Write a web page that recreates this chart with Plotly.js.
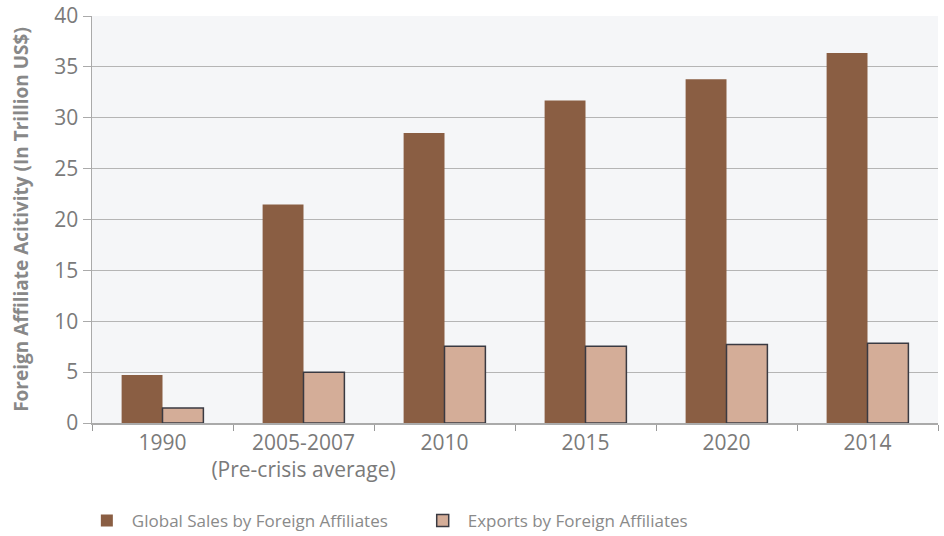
<!DOCTYPE html>
<html>
<head>
<meta charset="utf-8">
<script src="https://cdn.plot.ly/plotly-3.0.1.min.js"></script>
<style>html,body{margin:0;padding:0;background:#fff}#chart{width:944px;height:536px}</style>
</head>
<body>
<div id="chart"></div>
<script>
const categories = ["1990", "2005-2007<br>(Pre-crisis average)", "2010", "2015", "2020", "2014"];
const globalSales = [4.72, 21.47, 28.5, 31.7, 33.78, 36.36];
const exportsFA = [1.47, 5.0, 7.55, 7.55, 7.72, 7.85];
const yTicks = [0, 5, 10, 15, 20, 25, 30, 35, 40];

const traces = [
  {type: "bar", x: categories, y: globalSales, name: "Global Sales by Foreign Affiliates",
   legend: "legend",
   marker: {color: "#8a5e43", line: {color: "#8a5e43", width: 0}}},
  {type: "bar", x: categories, y: exportsFA, name: "Exports by Foreign Affiliates",
   legend: "legend2",
   marker: {color: "#d4ad98", line: {color: "#3a3a42", width: 1.5}}}
];

const FONT = "'Open Sans', sans-serif";
const legendFont = {size: 17, color: "#8a8a8a", family: FONT};
const layout = {
  width: 944, height: 536,
  margin: {l: 92, r: 6, t: 16, b: 113, autoexpand: false},
  paper_bgcolor: "#ffffff",
  plot_bgcolor: "#f5f6f8",
  font: {family: FONT, color: "#777", size: 18},
  barmode: "group", bargap: 0.42, bargroupgap: 0,
  xaxis: {
    type: "category", tickson: "boundaries", ticks: "outside", ticklen: 6, tickcolor: "#999",
    showline: true, linecolor: "#aaa", linewidth: 1.5, showgrid: false,
    tickangle: 0, automargin: false,
    tickfont: {size: 21, color: "#7a7a7a", family: FONT}
  },
  yaxis: {
    range: [0, 40], tickvals: yTicks, ticks: "outside", ticklen: 8, tickcolor: "#aaa",
    showline: true, linecolor: "#aaa", linewidth: 1.5, automargin: false,
    gridcolor: "#b5b5b5", gridwidth: 1, zeroline: false,
    tickfont: {size: 21, color: "#7a7a7a", family: FONT},
    title: {text: "Foreign Affiliate Acitivity (In Trillion US$)", standoff: 20,
            font: {size: 19, color: "#888", family: FONT, weight: "bold"}}
  },
  legend: {orientation: "h", xref: "paper", x: -0.012, xanchor: "left", yref: "container", y: 0.028, yanchor: "middle",
           font: legendFont, itemwidth: 40},
  legend2: {orientation: "h", xref: "paper", x: 0.385, xanchor: "left", yref: "container", y: 0.028, yanchor: "middle",
           font: legendFont, itemwidth: 40},
  showlegend: true
};

Plotly.newPlot("chart", traces, layout, {displayModeBar: false, staticPlot: true});
</script>
</body>
</html>
